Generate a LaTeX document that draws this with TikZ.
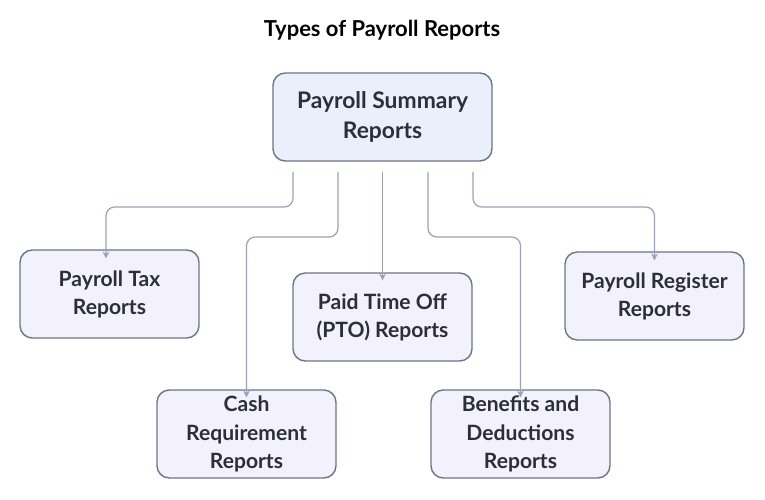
\documentclass[tikz,border=0pt]{standalone}
\usepackage{fontspec}
\setmainfont{Lato}
\usetikzlibrary{positioning}
\definecolor{boxline}{HTML}{6E7486}
\definecolor{topfill}{HTML}{E9F0FC}
\definecolor{subfill}{HTML}{F3F2FC}
\definecolor{wire}{HTML}{9AA2B6}
\definecolor{ink}{HTML}{2E2E38}
\tikzset{
  report/.style={draw=boxline, fill=subfill, rounded corners=7pt, line width=0.8pt,
    minimum width=179*0.02cm, minimum height=88*0.02cm, align=center,
    text=ink, font=\fontsize{12}{16}\selectfont\bfseries},
  link/.style={draw=wire, line width=0.7pt, rounded corners=5pt, ->, >=stealth}
}
\begin{document}
\begin{tikzpicture}[x=0.02cm, y=-0.02cm]
    \useasboundingbox (0,0) rectangle (765,500);
    % title
    \node[font=\fontsize{12.5}{15}\selectfont\bfseries, text=black] (T) at (382,30) {Types of Payroll Reports};
    % boxes
    \node[report, fill=topfill, minimum width=219*0.02cm, font=\fontsize{13}{17}\selectfont\bfseries] (S) at (382.5,117) {Payroll Summary\\Reports};
    \node[report] (Tax) at (109.5,294) {Payroll Tax\\Reports};
    \node[report] (Cash) at (246.5,434) {Cash\\Requirement\\Reports};
    \node[report] (PTO) at (382.5,317) {Paid Time Off\\(PTO) Reports};
    \node[report] (Ben) at (520.5,434) {Benefits and\\Deductions\\Reports};
    \node[report] (Reg) at (654.5,296) {Payroll Register\\Reports};
    % start points under the summary box
    \coordinate (s1) at (293,172);
    \coordinate (s2) at (338,172);
    \coordinate (s3) at (382.5,172);
    \coordinate (s4) at (428,172);
    \coordinate (s5) at (473,172);
    % connectors
    \draw[link] (s1) |- (200,207) -| ([yshift=-9*0.02cm]Tax.north -| 106,0);
    \draw[link] (s2) |- (300,237) -| ([yshift=-8*0.02cm]Cash.north);
    \draw[link] (s3) -- ([yshift=-8*0.02cm]PTO.north);
    \draw[link] (s4) |- (480,237) -| ([yshift=-8*0.02cm]Ben.north);
    \draw[link] (s5) |- (560,207) -| ([yshift=-9*0.02cm]Reg.north);
\end{tikzpicture}
\end{document}
